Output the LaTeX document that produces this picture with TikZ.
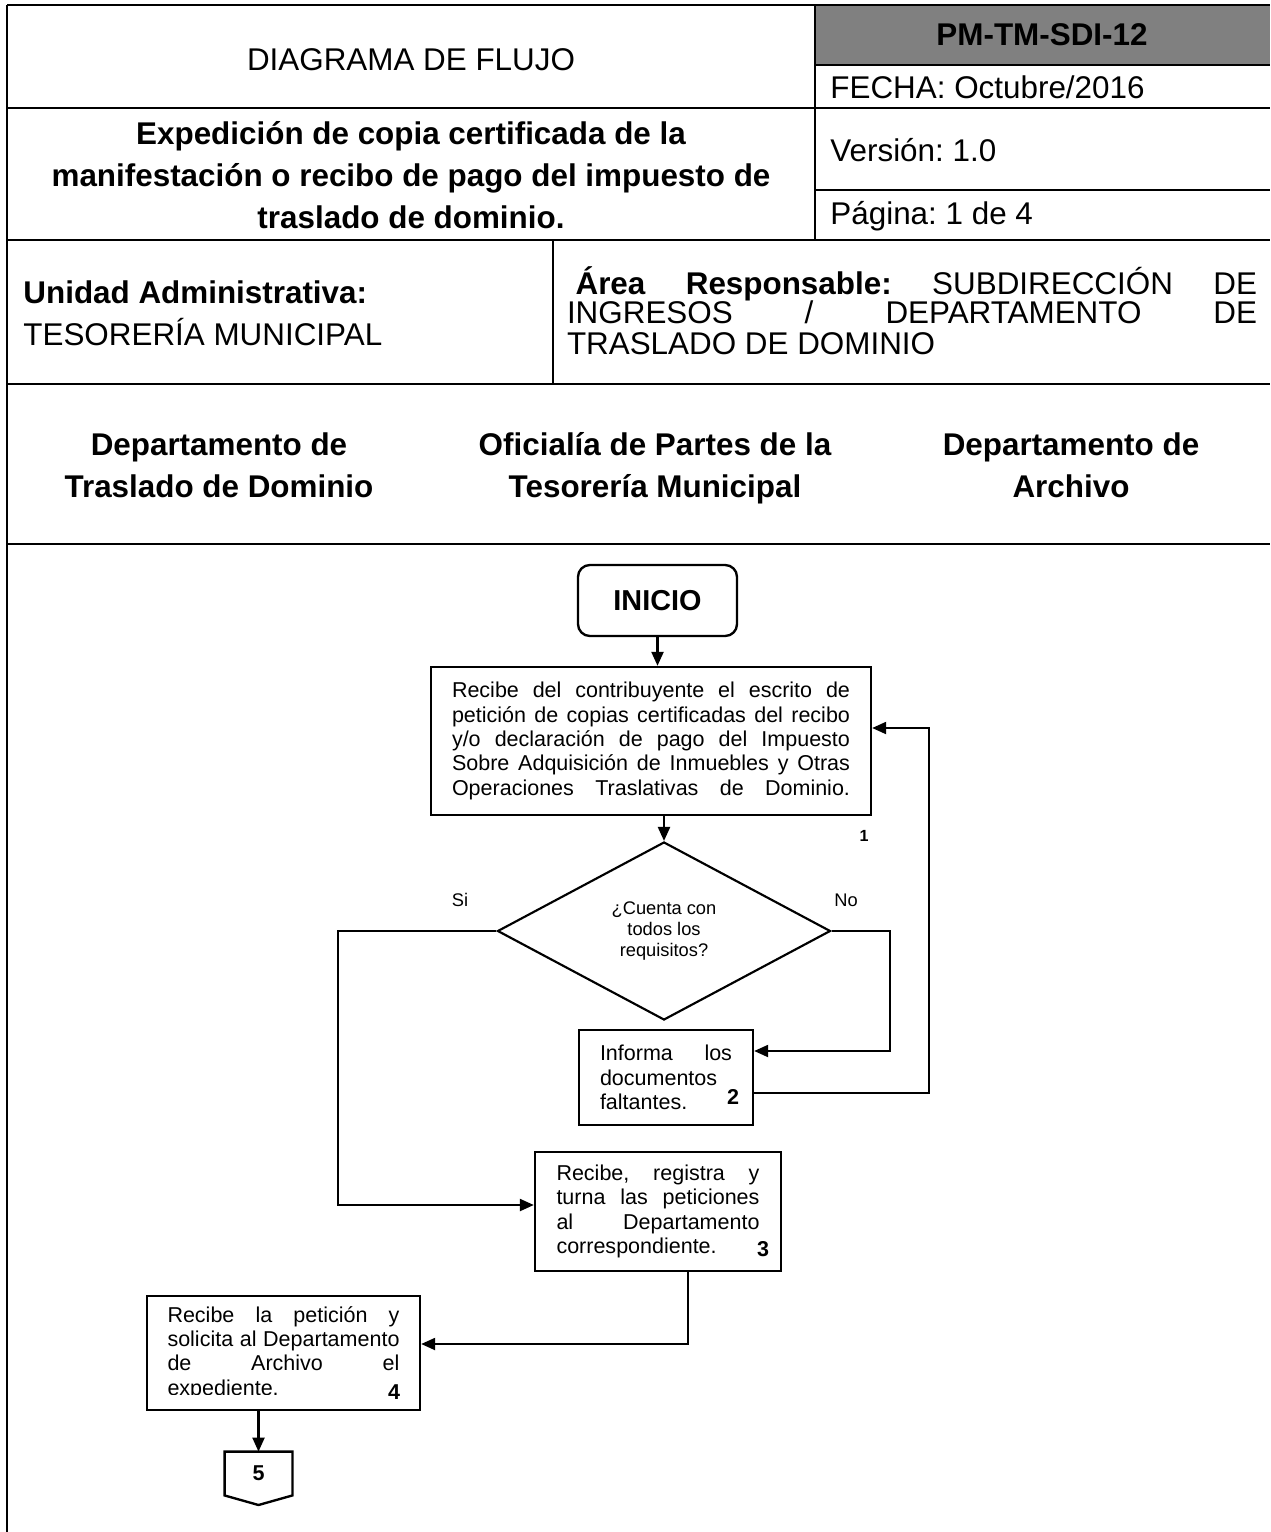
\documentclass[tikz,border=0pt]{standalone}
\usepackage{fontspec}
\setmainfont{Liberation Sans}
\usetikzlibrary{arrows.meta,shapes.geometric}
\setlength{\parindent}{0pt}
\frenchspacing

\newcommand{\pxu}{0.465pt}
\newcommand{\encfont}{\fontsize{14.6pt}{19.5pt}\selectfont}
\newcommand{\areafont}{\fontsize{14.6pt}{13.6pt}\selectfont\lineskiplimit=-20pt}
\newcommand{\cajafont}{\fontsize{10pt}{11.3pt}\selectfont}
\newcommand{\decfont}{\fontsize{8.5pt}{9.8pt}\selectfont}

\begin{document}
\begin{tikzpicture}[x=\pxu, y=-\pxu,
        >={Triangle[length=6.5pt, width=5.6pt]},
        tabla/.style={line width=1.3pt},
        enc/.style={inner sep=0pt, font=\encfont},
        caja/.style={draw, line width=1.1pt, inner sep=0pt, align=justify, font=\cajafont},
        flecha/.style={->, line width=0.95pt},
        num/.style={inner sep=0pt, font=\fontsize{10pt}{11pt}\selectfont\bfseries}]

            \useasboundingbox (0, 0) rectangle (1270, 1532);

            \fill[gray] (815, 5) rectangle (1270, 65);

            \draw[tabla] (7, 5) -- (1270, 5);
            \draw[tabla] (815, 65) -- (1270, 65);
            \draw[tabla] (7, 108) -- (1270, 108);
            \draw[tabla] (815, 190) -- (1270, 190);
            \draw[tabla] (7, 240) -- (1270, 240);
            \draw[tabla] (7, 384) -- (1270, 384);
            \draw[tabla] (7, 544) -- (1270, 544);
            \draw[line width=1pt] (7, 5) -- (7, 1532);
            \draw[line width=1pt] (815, 5) -- (815, 240);
            \draw[line width=1pt] (553, 240) -- (553, 384);

            \node (diagrama) at (411, 60) [enc] {DIAGRAMA DE FLUJO};
            \node (clave) at (1042, 35) [enc, font=\encfont\bfseries] {PM-TM-SDI-12};
            \node (fecha) at (830, 87) [enc, anchor=west] {FECHA: Octubre/2016};
            \node (titulo) at (411, 175) [enc, font=\encfont\bfseries, align=center] {Expedición de copia certificada de la\\manifestación o recibo de pago del impuesto de\\traslado de dominio.};
            \node (version) at (830, 150) [enc, anchor=west] {Versión: 1.0};
            \node (pagina) at (830, 216) [enc, anchor=west] {Página: 1 de 4};

            \node (unidad) at (23, 313) [enc, anchor=west, align=left] {\textbf{Unidad Administrativa:}\\TESORERÍA MUNICIPAL};
            \node (area) at (912, 311) [inner sep=0pt, font=\areafont, text width=690*\pxu, align=justify] {\hspace*{4pt}\textbf{Área Responsable:} SUBDIRECCIÓN DE\linebreak INGRESOS / DEPARTAMENTO DE\vadjust{\vskip 0.8pt}\linebreak TRASLADO DE DOMINIO};

            \node (carril-1) at (219, 465) [enc, font=\encfont\bfseries, align=center] {Departamento de\\Traslado de Dominio};
            \node (carril-2) at (655, 468) [enc, font=\encfont\bfseries, align=center] {Oficialía de Partes de la\\Tesorería Municipal};
            \node (carril-3) at (1071, 465) [enc, font=\encfont\bfseries, align=center] {Departamento de\\Archivo};

            \node (inicio) at (657.5, 600.5) [draw, line width=1.1pt, rounded corners=5.5pt, minimum width=159*\pxu, minimum height=71*\pxu, font=\fontsize{13.4pt}{15pt}\selectfont\bfseries] {INICIO};

            \node (recibe) at (651, 741) [caja, text width=398*\pxu, minimum width=440*\pxu, minimum height=148*\pxu] {Recibe del contribuyente el escrito de\linebreak petición de copias certificadas del recibo\linebreak y/o declaración de pago del Impuesto\linebreak Sobre Adquisición de Inmuebles y Otras\linebreak \makebox[\hsize][s]{Operaciones Traslativas de Dominio.}};
            \node (n-1) at (864, 836) [num, font=\fontsize{7.5pt}{8pt}\selectfont\bfseries] {1};

            \node (cuenta) at (664, 931) [diamond, draw, line width=1pt, inner sep=0pt, minimum width=333*\pxu, minimum height=178*\pxu, align=center, font=\decfont] {¿Cuenta con\\todos los\\requisitos?};
            \node (si) at (460, 900) [inner sep=0pt, font=\decfont] {Si};
            \node (no) at (846, 900) [inner sep=0pt, font=\decfont] {No};

            \node (informa) at (666, 1077.5) [caja, text width=132*\pxu, minimum width=174*\pxu, minimum height=95*\pxu] {Informa los\linebreak documentos\newline faltantes.};
            \node (n-2) at (733, 1097) [num] {2};

            \node (turna) at (658, 1211.5) [caja, text width=203*\pxu, minimum width=246*\pxu, minimum height=119*\pxu] {Recibe, registra y\linebreak turna las peticiones\linebreak al Departamento\linebreak correspondiente.};
            \node (n-3) at (763, 1249) [num] {3};

            \node (solicita) at (283.5, 1353) [caja, text width=232*\pxu, minimum width=273*\pxu, minimum height=114*\pxu] {Recibe la petición y\linebreak solicita al Departamento\linebreak de Archivo el\linebreak expediente.};
            \fill[white] (160, 1395) rectangle (300, 1405);
            \node (n-4) at (394, 1392) [num] {4};

            \node (c5) at (258.5, 1473.5) [minimum width=67*\pxu, minimum height=43*\pxu, inner sep=0pt, font=\fontsize{10pt}{11pt}\selectfont\bfseries] {5};
            \coordinate (c5-punta) at (258.5, 1505);
            \draw[line width=1.1pt] (c5.north west) -- (c5.north east) -- (c5.south east) -- (c5-punta) -- (c5.south west) -- cycle;

            \coordinate (si-esq) at (338, 1205);
            \coordinate (no-esq) at (890, 1051);
            \coordinate (reg-a) at (929, 1093);
            \coordinate (reg-b) at (929, 728);
            \coordinate (turna-esq) at (688, 1344);

            \draw[flecha] (inicio.south) -- (inicio.south |- recibe.north);
            \draw[flecha] (cuenta.north |- recibe.south) -- (cuenta.north);

            \draw[flecha] (cuenta.west) -| (si-esq) -- (turna.west |- si-esq);
            \draw[flecha] (cuenta.east) -| (no-esq) -- (informa.east |- no-esq);

            \draw[flecha] (informa.east |- reg-a) -- (reg-a) -- (reg-b) -- (recibe.east |- reg-b);

            \draw[flecha] (turna.south -| turna-esq) -- (turna-esq) -- (solicita.east |- turna-esq);
            \draw[flecha] (c5.north |- solicita.south) -- (c5.north);

        \end{tikzpicture}
\end{document}
